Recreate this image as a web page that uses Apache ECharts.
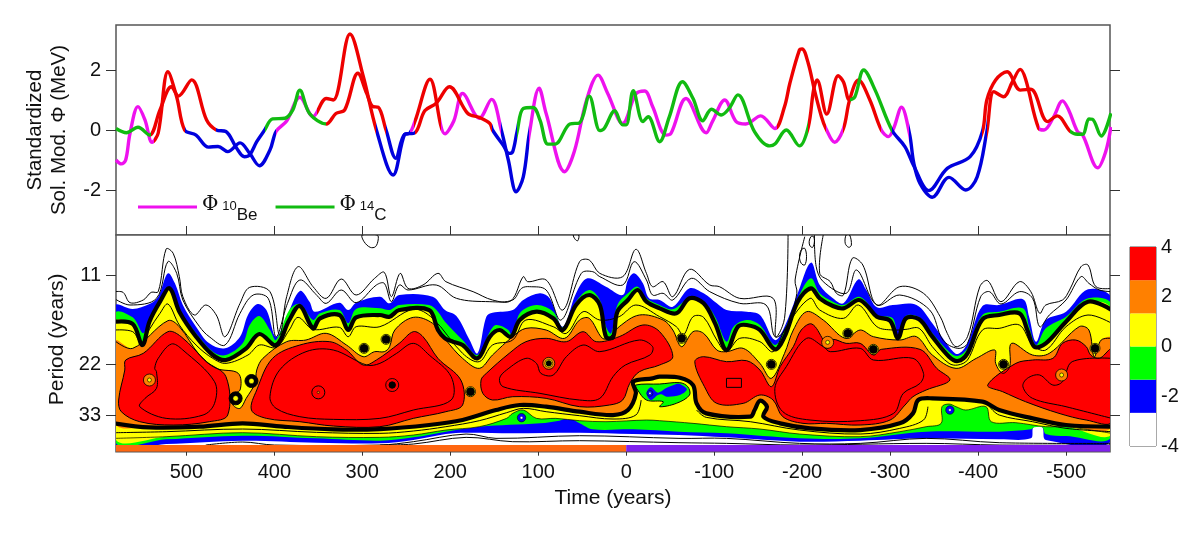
<!DOCTYPE html>
<html><head><meta charset="utf-8">
<script src="https://cdn.jsdelivr.net/npm/echarts@6/dist/echarts.min.js"></script>
<style>html,body{margin:0;padding:0;background:#fff}#c{width:1200px;height:534px}</style>
</head><body><div id="c"></div>
<script>
// ---------- line panel: [time, standardized value] ----------
const be10 = [[580,-1.0],[574,-1.13],[569,-1.0],[564,-.1],[555,.78],[547,.33],[539,-.41],[532,-.1],[521,1.94],[511,1.1],[502,0],[489,-.17],[475,-.57],[464,-.55],[453,-.72],[439,-.43],[428,-.78],[417,-1.19],[405,-.67],[398,-.05],[386,.3],[371,1.09],[356,.45],[341,1.05],[333,1.0],[314,3.2],[299,1.8],[284,0],[265,-1.5],[252,-.15],[246,-.1],[240,.3],[223,1.69],[206,-.13],[196,.3],[186,1.22],[167,.39],[153,1.02],[142,0],[134,-1.0],[125,-2.06],[117,-1.56],[110,-.1],[99,1.39],[91,.55],[70,-1.39],[59,-.72],[45,1.0],[32,1.83],[21,1.22],[4,.22],[-11,1.2],[-21,1.3],[-30,.78],[-45,-.17],[-51,-.11],[-68,1.05],[-91,-.09],[-98,.28],[-112,1.0],[-125,.28],[-136,.2],[-153,.47],[-169,.05],[-180,.78],[-186,1.55],[-197,2.67],[-200,2.7],[-207,2.22],[-214,1.33],[-222,.44],[-227,.05],[-237,-.41],[-247,.05],[-254,1.0],[-264,1.67],[-277,1.0],[-290,0],[-298,-.22],[-304,.05],[-313,.76],[-322,-.11],[-327,-1.11],[-334,-1.78],[-348,-2.24],[-367,-1.58],[-386,-2.0],[-399,-1.56],[-410,-.05],[-418,1.28],[-429,1.11],[-439,1.6],[-448,2.02],[-454,1.7],[-469,.05],[-475,0],[-486,.44],[-496,.97],[-503,.67],[-513,-.05],[-519,-.17],[-536,-1.26],[-545,-.73],[-551,.1]];
const c14 = [[580,.05],[568,-.09],[555,.09],[542,-.17],[530,.67],[517,1.44],[509,1.13],[494,1.67],[477,.33],[466,0],[455,-.05],[443,-.6],[434,-.89],[428,-.83],[420,-.39],[411,0],[402,.37],[388,.39],[379,.67],[371,1.33],[360,.55],[341,.2],[330,.55],[320,.67],[305,1.89],[295,1.22],[288,.78],[282,.76],[273,0],[262,-.94],[252,-.15],[240,-.09],[229,.64],[216,.89],[201,1.44],[180,.55],[167,.42],[155,.22],[152,0],[140,-.5],[133,-.78],[129,-.72],[124,-.05],[117,.72],[106,.75],[98,.33],[89,-.47],[81,-.47],[64,.2],[53,.24],[42,1.13],[30,-.02],[25,.05],[13,.64],[4,.17],[0,.17],[-8,1.31],[-19,.28],[-25,.44],[-38,-.39],[-49,.44],[-64,1.61],[-76,1.05],[-87,.31],[-97,.69],[-108,.5],[-117,.72],[-127,1.17],[-146,-.06],[-163,-.53],[-169,-.47],[-182,0],[-197,-.53],[-207,.1],[-213,1.33],[-217,1.67],[-228,.53],[-241,1.81],[-247,1.6],[-254,1.0],[-260,1.11],[-270,2.0],[-283,1.33],[-302,0],[-317,-.56],[-327,-1.2],[-344,-2.02],[-365,-1.28],[-391,-.89],[-405,-.05],[-410,1.0],[-420,1.67],[-433,1.94],[-448,1.33],[-460,1.36],[-479,.28],[-490,.47],[-505,-.05],[-513,-.14],[-519,-.14],[-526,.37],[-530,.36],[-540,-.2],[-551,.56]];
// stretches of each curve: [start time, end time, class]
const beStretches = [[581,537,'own'],[537,502,'hi'],[502,398,'lo'],[398,352,'own'],[352,284,'hi'],[284,246,'lo'],[246,241,'own'],[241,210,'hi'],[210,142,'own'],[142,110,'lo'],[110,-172,'own'],[-172,-227,'hi'],[-227,-247,'own'],[-247,-290,'hi'],[-290,-322,'own'],[-322,-410,'lo'],[-410,-469,'hi'],[-469,-552,'own']];
const c14Stretches = [[581,540,'own'],[540,466,'hi'],[466,411,'lo'],[411,341,'own'],[341,273,'hi'],[273,240,'lo'],[240,152,'hi'],[152,124,'lo'],[124,-207,'own'],[-207,-254,'hi'],[-254,-302,'own'],[-302,-405,'lo'],[-405,-505,'hi'],[-505,-552,'own']];

// ---------- contour panel: [time, log-period scale position] ----------
const periodTicks = [[136,'11'],[402,'22'],[556,'33']];
const timeTicks = [500,400,300,200,100,0,-100,-200,-300,-400,-500];
const valueTicks = [-2,0,2];
const barLevels = [-4,-2.667,-1.333,0,1.333,2.667,4];
const barLabels = [4,2,0,-2,-4];

const whiteOuter = [[581,185],[572,187],[564,218],[549,210],[540,187],[532,185],[523,57],[515,70],[508,140],[504,200],[491,255],[478,225],[466,255],[456,320],[439,220],[428,172],[405,185],[394,315],[386,200],[373,110],[356,170],[341,205],[324,147],[307,195],[286,145],[275,127],[267,200],[257,130],[248,175],[231,165],[214,130],[205,155],[174,185],[152,210],[131,212],[117,140],[112,155],[91,150],[72,240],[53,95],[42,90],[30,130],[4,140],[-11,58],[-23,130],[-30,170],[-42,155],[-53,200],[-72,118],[-95,165],[-106,170],[-129,205],[-167,205],[-170,320],[-180,265],[-184,15]];
const whiteOuter2 = [[-224,15],[-220,130],[-232,155],[-239,190],[-247,195],[-257,85],[-269,105],[-285,225],[-311,170],[-338,190],[-357,260],[-365,310],[-375,350],[-388,320],[-402,170],[-411,152],[-426,215],[-447,155],[-460,185],[-470,250],[-477,225],[-496,210],[-504,180],[-517,110],[-525,105],[-534,170],[-552,175]];
const whiteInner = [[581,207],[564,225],[534,205],[521,95],[511,130],[504,210],[485,290],[474,320],[456,345],[439,250],[424,195],[407,205],[398,320],[385,220],[371,150],[352,195],[341,220],[324,180],[307,218],[284,165],[275,160],[267,215],[258,165],[248,180],[216,165],[193,205],[155,215],[129,210],[119,175],[110,170],[91,180],[74,270],[51,130],[38,125],[30,140],[4,165],[-9,95],[-23,150],[-30,195],[-42,190],[-53,210],[-74,145],[-95,185],[-129,220],[-159,225],[-169,320],[-182,295],[-194,190],[-192,150],[-203,20]];
const whiteInner2 = [[-214,15],[-216,110],[-224,155],[-250,190],[-262,120],[-285,225],[-311,195],[-345,240],[-360,330],[-377,355],[-388,340],[-403,200],[-413,185],[-426,222],[-447,185],[-462,205],[-470,290],[-481,255],[-500,210],[-517,140],[-526,160],[-538,180],[-552,185]];
const topLoops = [[[300,15],[298,35],[291,52],[285,50],[282,30],[283,15]],[[60,15],[58,28],[55,32],[54,15]],[[-199,60],[-203,55],[-205,80],[-203,105],[-199,100],[-197,80]],[[-210,20],[-213,20],[-214,35],[-212,52],[-209,48],[-208,35]],[[-250,15],[-249,40],[-253,52],[-256,45],[-254,15]]];

const blueTop = [[581,228],[561,237],[542,222],[532,200],[521,130],[513,160],[504,225],[489,290],[474,340],[456,355],[439,320],[430,255],[419,222],[409,240],[398,320],[386,260],[371,183],[360,215],[354,245],[326,218],[316,240],[307,218],[280,200],[269,220],[258,195],[220,200],[206,240],[193,258],[178,330],[169,370],[159,260],[152,248],[129,240],[117,210],[98,190],[87,205],[72,290],[57,190],[44,145],[23,170],[4,195],[-2,150],[-9,130],[-19,160],[-26,205],[-38,210],[-53,230],[-72,175],[-88,190],[-103,220],[-114,240],[-137,245],[-152,255],[-169,330],[-180,290],[-195,190],[-210,98],[-220,165],[-235,205],[-247,220],[-264,148],[-273,180],[-285,232],[-303,225],[-330,225],[-348,280],[-367,350],[-377,372],[-388,340],[-405,228],[-424,225],[-451,208],[-458,260],[-466,335],[-477,270],[-500,245],[-525,178],[-552,207]];
const greenTop = [[581,250],[561,262],[549,310],[542,265],[530,207],[519,180],[508,240],[489,310],[470,365],[455,375],[436,340],[428,285],[417,258],[405,300],[398,330],[383,240],[371,222],[356,270],[348,250],[326,240],[316,280],[307,237],[280,235],[269,240],[258,225],[224,225],[214,245],[206,275],[186,330],[169,375],[155,305],[148,285],[134,300],[129,325],[121,250],[102,225],[83,245],[72,292],[57,215],[42,180],[30,210],[23,290],[17,310],[10,225],[-2,190],[-13,170],[-23,205],[-38,225],[-53,238],[-72,205],[-88,215],[-101,260],[-114,335],[-122,290],[-137,270],[-152,285],[-169,345],[-180,300],[-195,205],[-210,145],[-220,190],[-235,215],[-247,225],[-264,200],[-273,215],[-285,255],[-303,265],[-309,320],[-318,258],[-333,262],[-348,310],[-367,365],[-377,378],[-388,355],[-405,255],[-424,245],[-451,235],[-458,290],[-466,345],[-477,295],[-500,260],[-525,205],[-552,225]];
const zeroTop = [[581,275],[561,282],[550,345],[542,275],[530,215],[519,175],[508,245],[489,320],[470,375],[455,390],[432,355],[417,312],[398,345],[383,270],[371,228],[356,295],[348,265],[326,255],[316,300],[307,262],[280,255],[269,260],[258,240],[224,240],[214,300],[206,325],[197,335],[186,345],[169,385],[155,320],[144,300],[131,320],[121,270],[102,245],[83,265],[72,300],[57,225],[42,195],[30,225],[23,320],[15,322],[10,245],[-2,210],[-13,180],[-23,215],[-38,235],[-57,250],[-72,205],[-88,220],[-101,280],[-114,360],[-127,290],[-137,285],[-152,300],[-169,358],[-180,320],[-195,215],[-210,175],[-220,205],[-235,228],[-247,235],[-264,210],[-273,225],[-285,260],[-300,272],[-309,325],[-318,265],[-333,268],[-348,320],[-367,380],[-377,393],[-388,370],[-405,268],[-424,255],[-447,250],[-456,300],[-464,350],[-477,340],[-500,275],[-525,215],[-552,240]];
const oneLine = [[581,300],[561,305],[551,340],[542,298],[530,250],[521,222],[508,285],[489,345],[470,385],[455,400],[430,375],[417,345],[398,352],[383,300],[373,262],[356,298],[326,292],[316,320],[307,290],[280,290],[242,238],[220,265],[186,370],[167,395],[152,345],[129,330],[114,270],[83,290],[68,310],[49,245],[30,270],[8,260],[-11,225],[-38,260],[-57,290],[-65,315],[-76,260],[-88,262],[-103,330],[-114,365],[-129,325],[-152,335],[-167,365],[-182,290],[-209,205],[-220,240],[-247,265],[-264,225],[-285,290],[-303,300],[-318,298],[-333,295],[-348,350],[-367,400],[-377,405],[-388,390],[-405,300],[-424,295],[-447,285],[-462,345],[-477,360],[-500,290],[-525,255],[-552,280]];
const orangeTop = [[581,333],[561,355],[521,272],[508,290],[485,375],[466,415],[441,430],[439,480],[449,495],[447,525],[439,535],[432,505],[422,460],[420,420],[413,385],[386,335],[364,330],[341,310],[318,345],[299,380],[286,365],[275,365],[269,350],[263,300],[242,262],[220,280],[205,330],[186,385],[167,415],[152,375],[129,320],[114,295],[91,300],[70,325],[53,270],[42,265],[27,325],[19,322],[8,290],[-15,255],[-42,270],[-53,300],[-63,350],[-76,305],[-88,310],[-103,360],[-114,365],[-133,355],[-152,400],[-165,445],[-180,370],[-190,300],[-205,245],[-224,270],[-249,325],[-266,300],[-281,320],[-311,330],[-330,320],[-348,375],[-375,415],[-398,385],[-419,360],[-420,400],[-428,430],[-436,410],[-438,340],[-462,375],[-481,370],[-515,290],[-526,300],[-532,380],[-540,330],[-552,325]];
const orangeBottom = [[581,580],[542,592],[485,590],[436,580],[390,590],[333,598],[280,597],[224,585],[186,570],[148,540],[121,525],[91,530],[53,545],[15,555],[-2,540],[-11,490],[-8,455],[-30,445],[-38,440],[-61,443],[-76,465],[-80,520],[-91,550],[-141,560],[-146,540],[-152,512],[-160,530],[-156,560],[-175,580],[-209,595],[-266,600],[-311,580],[-326,550],[-332,510],[-348,505],[-405,515],[-424,540],[-462,565],[-500,585],[-552,590]];
const lowOneA = [[581,608],[523,605],[436,597],[352,607],[280,610],[242,603],[205,590],[167,572],[136,548],[117,535],[91,545],[53,557],[15,567],[-11,555],[-17,510]];
const lowOneB = [[-80,540],[-91,562],[-141,575],[-197,600],[-266,612],[-311,595],[-338,570],[-343,530]];
const lowOneC = [[-413,530],[-424,555],[-462,575],[-500,595],[-552,605]];
const yellowBottom = [[581,625],[523,620],[436,608],[352,620],[280,622],[242,615],[205,600],[167,590],[136,565],[129,550],[117,540],[102,565],[80,565],[53,572],[23,575],[-23,570],[-38,572],[-76,580],[-114,590],[-152,597],[-197,612],[-266,620],[-311,605],[-341,590],[-358,580],[-359,530],[-367,522],[-375,530],[-386,540],[-409,530],[-415,575],[-443,578],[-477,590],[-500,590],[-552,610]];
const greenBottom = [[581,635],[523,628],[436,617],[352,625],[280,632],[242,622],[205,605],[167,590],[98,580],[76,572],[65,565],[53,580],[38,598],[-8,598],[-60,605],[-114,610],[-197,625],[-266,625],[-341,605],[-424,605],[-460,598],[-464,592],[-473,592],[-477,612],[-500,618],[-552,618]];
const blueBottom = [[581,645],[523,642],[436,632],[352,638],[280,640],[242,630],[205,612],[182,608],[129,610],[53,608],[-8,612],[-60,615],[-114,622],[-197,635],[-266,632],[-341,625],[-424,628],[-460,625],[-463,592],[-473,592],[-477,630],[-552,628]];
const lowLine1 = [[478,645],[436,636],[400,645],[280,645],[242,635],[182,612],[148,625],[53,617],[-60,625],[-114,625],[-197,640],[-266,640],[-341,625],[-424,638],[-552,640]];
const lowLine2 = [[280,645],[242,642],[182,622],[129,635],[53,632],[-60,638],[-114,640],[-197,645],[-341,640],[-424,645],[-552,645]];

const greenIsland = [[-11,465],[-38,462],[-61,458],[-70,470],[-72,495],[-57,520],[-38,530],[-42,515],[-23,510],[-13,480]];
const blueIsland = [[-23,490],[-28,472],[-36,488],[-45,475],[-57,462],[-61,462],[-69,478],[-61,495],[-46,500],[-40,493],[-36,495],[-28,510]];
const red1 = [[569,390],[549,370],[521,305],[506,320],[477,395],[455,440],[453,555],[474,575],[515,585],[553,575],[574,545],[577,510],[570,420]];
const red1Inner = [[536,415],[532,385],[517,342],[504,360],[468,455],[468,520],[481,555],[523,565],[553,530],[547,505],[534,475],[534,425]];
const red2 = [[426,540],[420,480],[402,385],[371,345],[337,335],[318,360],[299,405],[284,390],[258,340],[242,305],[231,320],[214,385],[188,450],[186,525],[205,545],[242,565],[280,590],[333,588],[371,575],[409,565]];
const red2Inner = [[405,500],[394,420],[364,365],[333,360],[295,405],[280,400],[261,370],[242,340],[224,375],[199,440],[199,510],[242,540],[280,565],[333,568],[371,560],[398,535]];
const red3 = [[165,450],[159,430],[133,370],[114,335],[91,325],[68,335],[49,305],[34,335],[8,320],[-19,285],[-38,305],[-53,380],[-38,405],[-15,425],[-4,460],[4,510],[19,525],[53,530],[91,505],[129,500],[152,510],[163,490]];
const red3Inner = [[144,445],[136,420],[114,385],[102,400],[97,430],[83,435],[68,380],[49,345],[30,365],[-15,330],[-30,350],[-27,375],[1,405],[15,440],[30,505],[53,510],[98,490],[140,470]];
const red4 = [[-78,395],[-88,380],[-114,395],[-137,392],[-152,420],[-165,470],[-175,410],[-190,350],[-199,300],[-211,282],[-224,330],[-228,355],[-233,345],[-235,328],[-250,340],[-266,340],[-281,375],[-290,358],[-334,358],[-353,415],[-368,450],[-341,480],[-326,500],[-317,525],[-300,570],[-266,585],[-228,580],[-201,580],[-178,560],[-167,510],[-152,495],[-133,520],[-103,520],[-89,470]];
const red4Inner = [[-169,475],[-182,410],[-205,325],[-224,350],[-232,365],[-266,355],[-281,390],[-326,385],[-338,430],[-334,460],[-315,490],[-304,550],[-266,572],[-209,570],[-178,545]];
const red4Box = [[-114,445],[-131,445],[-131,472],[-114,472]];
const red6 = [[-411,465],[-443,400],[-462,390],[-485,385],[-496,340],[-511,330],[-523,350],[-528,375],[-538,385],[-552,358],[-552,575],[-523,570],[-492,550],[-454,515],[-428,485]];
const red6Inner = [[-552,385],[-507,395],[-496,455],[-485,465],[-470,435],[-456,445],[-451,470],[-462,505],[-500,530],[-552,565]];

// small closed contours: [time, position, kind]
const spots = [[542,450,'warm'],[444,505,'ring'],[426,453,'ring'],[350,487,'peak'],[266,465,'star'],[298,355,'dark'],[273,328,'dark'],[177,485,'dark'],[88,400,'warmDark'],[119,563,'cold'],[-63,325,'dark'],[-165,403,'dark'],[-229,337,'warm'],[-252,310,'dark'],[-281,358,'dark'],[-368,540,'cold'],[-27,490,'coldSmall'],[-429,403,'dark'],[-495,435,'warm'],[-533,355,'dark']];

const C = {red:'#ff0000',orange:'#ff8000',yellow:'#ffff00',green:'#00ff00',blue:'#0000ff',white:'#ffffff',k:'#000'};
const lineCols = {be:'#ee11ee',c:'#11bb11',hi:'#ee0000',lo:'#0000dd'};
const band = (top,bottom)=>top.concat(bottom.slice().reverse());
const shapes = [
 {p:band(blueTop,blueBottom),fill:C.blue},
 {p:band(greenTop,greenBottom),fill:C.green},
 {p:band(zeroTop,yellowBottom),fill:C.yellow},
 {p:greenIsland,fill:C.green},{p:blueIsland,fill:C.blue},
 {p:band(orangeTop,orangeBottom),fill:C.orange},
 {p:red1,fill:C.red},{p:red2,fill:C.red},{p:red3,fill:C.red},{p:red4,fill:C.red},{p:red6,fill:C.red},
 // contour lines
 {l:whiteOuter,w:1},{l:whiteOuter2,w:1},{l:whiteInner,w:1},{l:whiteInner2,w:1},
 {l:lowLine1,w:1},{l:lowLine2,w:1},
 {l:yellowBottom,w:.7},{l:oneLine,w:1},{l:orangeTop,w:1},
 {l:lowOneA,w:1},{l:lowOneB,w:1},{l:lowOneC,w:1},
 {l:zeroTop,w:4.2},{l:orangeBottom,w:4.2},
 {p:red1,line:1},{p:red2,line:1},{p:red3,line:1},{p:red4,line:1},{p:red6,line:1},
 {p:red1Inner,line:1},{p:red2Inner,line:1},{p:red3Inner,line:1},{p:red4Inner,line:1},{p:red6Inner,l2:1},{p:red4Box,line:1,sharp:1},
 {p:greenIsland,line:1}
].concat(topLoops.map(p=>({p,line:1})));
const spotKinds = {
 warm:[[6,C.orange,C.k,.8],[2,C.yellow,C.k,.6]],
 warmDark:[[6,C.orange,C.k,.8],[4,C.yellow,C.k,.6],[2.6,C.k,C.k,1]],
 ring:[[6.5,C.k,C.k,1],[2.6,C.yellow,C.k,.4]],
 dark:[[5,C.yellow,C.k,.8],[3.9,C.k,C.k,1]],
 star:[[6.5,C.red,C.k,.9],[3.2,C.k,C.k,1]],
 peak:[[6.5,C.red,C.k,1],[1.2,C.orange,C.k,.6]],
 cold:[[4.2,C.blue,C.k,.6],[1.3,C.white,C.k,.3]],
 coldSmall:[[3,C.blue,C.k,.5],[1.1,C.white,C.k,.3]]
};

function drawShape(params,api){
  const s=shapes[params.dataIndex];
  const src=s.p||s.l;
  const pts=src.map(d=>api.coord(d));
  if(s.l2) return {type:'polyline',shape:{points:pts,smooth:.35},style:{fill:null,stroke:C.k,lineWidth:1}};
  if(s.fill) return {type:'polygon',shape:{points:pts,smooth:.35},style:{fill:s.fill}};
  if(s.line) return {type:'polygon',shape:{points:pts,smooth:s.sharp?0:.35},style:{fill:null,stroke:C.k,lineWidth:1}};
  return {type:'polyline',shape:{points:pts,smooth:.35},style:{fill:null,stroke:C.k,lineWidth:s.w}};
}
function drawSpot(params,api){
  const c=api.coord([api.value(0),api.value(1)]);
  const kind=spotKinds[spots[params.dataIndex][2]];
  return {type:'group',children:kind.map(r=>({type:'circle',shape:{cx:c[0],cy:c[1],r:r[0]},style:{fill:r[1],stroke:r[2],lineWidth:r[3]}}))};
}
const span = [[580,0,'#ff6610'],[0,-550,'#8020ee']];
function drawSpan(params,api){
  const a=api.coord([api.value(0),665]),b=api.coord([api.value(1),645]);
  return {type:'rect',shape:{x:a[0],y:b[1],width:b[0]-a[0],height:a[1]-b[1]},style:{fill:span[params.dataIndex][2]}};
}
const barCols=[C.white,C.blue,C.green,C.yellow,C.orange,C.red];
function drawBar(params,api){
  const i=params.dataIndex;
  const a=api.coord([0,barLevels[i+1]]),b=api.coord([1,barLevels[i]]);
  return {type:'rect',shape:{x:a[0],y:a[1],width:b[0]-a[0],height:b[1]-a[1]},style:{fill:barCols[i]}};
}
const pieces=(st,own)=>st.map(s=>({gt:s[1],lte:s[0],color:s[2]==='own'?own:lineCols[s[2]]}));
const FONT='"Liberation Sans",Arial,sans-serif';
const axisCol='#555';
const noLine={show:false,onZero:false};

const chart=echarts.init(document.getElementById('c'),null,{renderer:'canvas'});
chart.setOption({
 animation:false,
 textStyle:{fontFamily:FONT,color:'#111'},
 grid:[
  {left:116,width:994,top:25,height:210,show:true,borderColor:axisCol,borderWidth:1.5,backgroundColor:'#fff',z:0},
  {left:116,width:994,top:235,height:216.7,show:true,borderColor:axisCol,borderWidth:1.5,backgroundColor:'#fff'},
  {left:1130,width:26,top:247,height:199,show:true,borderColor:axisCol,borderWidth:1}
 ],
 xAxis:[
  {gridIndex:0,type:'value',inverse:true,min:-550,max:580,splitLine:{show:false},axisLine:noLine,axisLabel:{show:false},
   axisTick:{show:true,inside:true,length:9,lineStyle:{color:'#333'},customValues:timeTicks}},
  {gridIndex:1,type:'value',inverse:true,min:-550,max:580,splitLine:{show:false},axisLine:noLine,
   axisTick:{show:true,length:4,lineStyle:{color:'#333'},customValues:timeTicks},
   axisLabel:{customValues:timeTicks,fontSize:20,margin:11,color:'#111',formatter:v=>String(v)},
   name:'Time (years)',nameLocation:'middle',nameGap:36,nameTextStyle:{fontSize:21,color:'#111'}},
  {gridIndex:2,type:'value',min:0,max:1,show:false}
 ],
 yAxis:[
  {gridIndex:0,type:'value',min:-3.5,max:3.5,splitLine:{show:false},axisLine:noLine,
   axisTick:{show:true,length:10,lineStyle:{color:'#333'},customValues:valueTicks},
   axisLabel:{customValues:valueTicks,fontSize:20,margin:15,color:'#111'},
   name:'Standardized\nSol. Mod. \u03a6 (MeV)',nameLocation:'middle',nameRotate:90,nameGap:45,nameTextStyle:{fontSize:20.5,color:'#111',lineHeight:23.5}},
  {gridIndex:0,type:'value',position:'right',min:-3.5,max:3.5,splitLine:{show:false},axisLine:noLine,axisLabel:{show:false},
   axisTick:{show:true,length:10,lineStyle:{color:'#333'},customValues:valueTicks}},
  {gridIndex:1,type:'value',inverse:true,min:15,max:665,splitLine:{show:false},axisLine:noLine,
   axisTick:{show:true,length:10,lineStyle:{color:'#333'},customValues:periodTicks.map(d=>d[0])},
   axisLabel:{customValues:periodTicks.map(d=>d[0]),fontSize:20,margin:15,color:'#111',
     formatter:v=>{const t=periodTicks.find(d=>d[0]===v);return t?t[1]:'';}},
   name:'Period (years)',nameLocation:'middle',nameRotate:90,nameGap:48.5,nameTextStyle:{fontSize:21,color:'#111',padding:[0,0,0,8]}},
  {gridIndex:1,type:'value',position:'right',inverse:true,min:15,max:665,splitLine:{show:false},axisLine:noLine,axisLabel:{show:false},
   axisTick:{show:true,length:10,lineStyle:{color:'#333'},customValues:periodTicks.map(d=>d[0])}},
  {gridIndex:2,type:'value',position:'right',min:-4,max:4,splitLine:{show:false},axisLine:noLine,axisTick:{show:false},
   axisLabel:{customValues:barLabels,fontSize:20,margin:5,color:'#111'}}
 ],
 legend:{left:133,top:190,orient:'horizontal',itemWidth:59,itemHeight:3,itemGap:18,icon:'rect',selectedMode:false,
   data:['be','c'],
   formatter:n=>n==='be'?'{phi|\u03a6}{sp|  }{iso|10}{el|Be}':'{phi|\u03a6}{sp|  }{iso|14}{el|C}',
   textStyle:{rich:{phi:{fontSize:20,fontFamily:'"DejaVu Serif",serif',color:'#111',padding:[0,0,4,0]},sp:{fontSize:7},iso:{fontSize:13,color:'#111',padding:[0,0,2,0]},el:{fontSize:17,color:'#111',padding:[16,0,0,0]}}}},
 visualMap:[
  {show:false,type:'piecewise',seriesIndex:0,dimension:0,pieces:pieces(beStretches,lineCols.be)},
  {show:false,type:'piecewise',seriesIndex:1,dimension:0,pieces:pieces(c14Stretches,lineCols.c)}
 ],
 series:[
  {name:'be',type:'line',xAxisIndex:0,yAxisIndex:0,data:be10,smooth:.35,showSymbol:false,symbol:'none',color:lineCols.be,itemStyle:{color:lineCols.be},lineStyle:{width:3.4},z:3},
  {name:'c',type:'line',xAxisIndex:0,yAxisIndex:0,data:c14,smooth:.35,showSymbol:false,symbol:'none',color:lineCols.c,itemStyle:{color:lineCols.c},lineStyle:{width:3.4},z:4},
  {type:'custom',xAxisIndex:1,yAxisIndex:2,clip:true,renderItem:drawShape,data:shapes.map((s,i)=>[0,100]),silent:true,z:2},
  {type:'custom',xAxisIndex:1,yAxisIndex:2,clip:true,renderItem:drawSpot,data:spots.map(s=>[s[0],s[1]]),silent:true,z:3},
  {type:'custom',xAxisIndex:1,yAxisIndex:2,clip:true,renderItem:drawSpan,data:span.map(s=>[s[0],s[1]]),silent:true,z:4},
  {type:'custom',xAxisIndex:2,yAxisIndex:4,renderItem:drawBar,data:barCols.map(()=>[0,0]),silent:true,z:2}
 ]
});
</script></body></html>
